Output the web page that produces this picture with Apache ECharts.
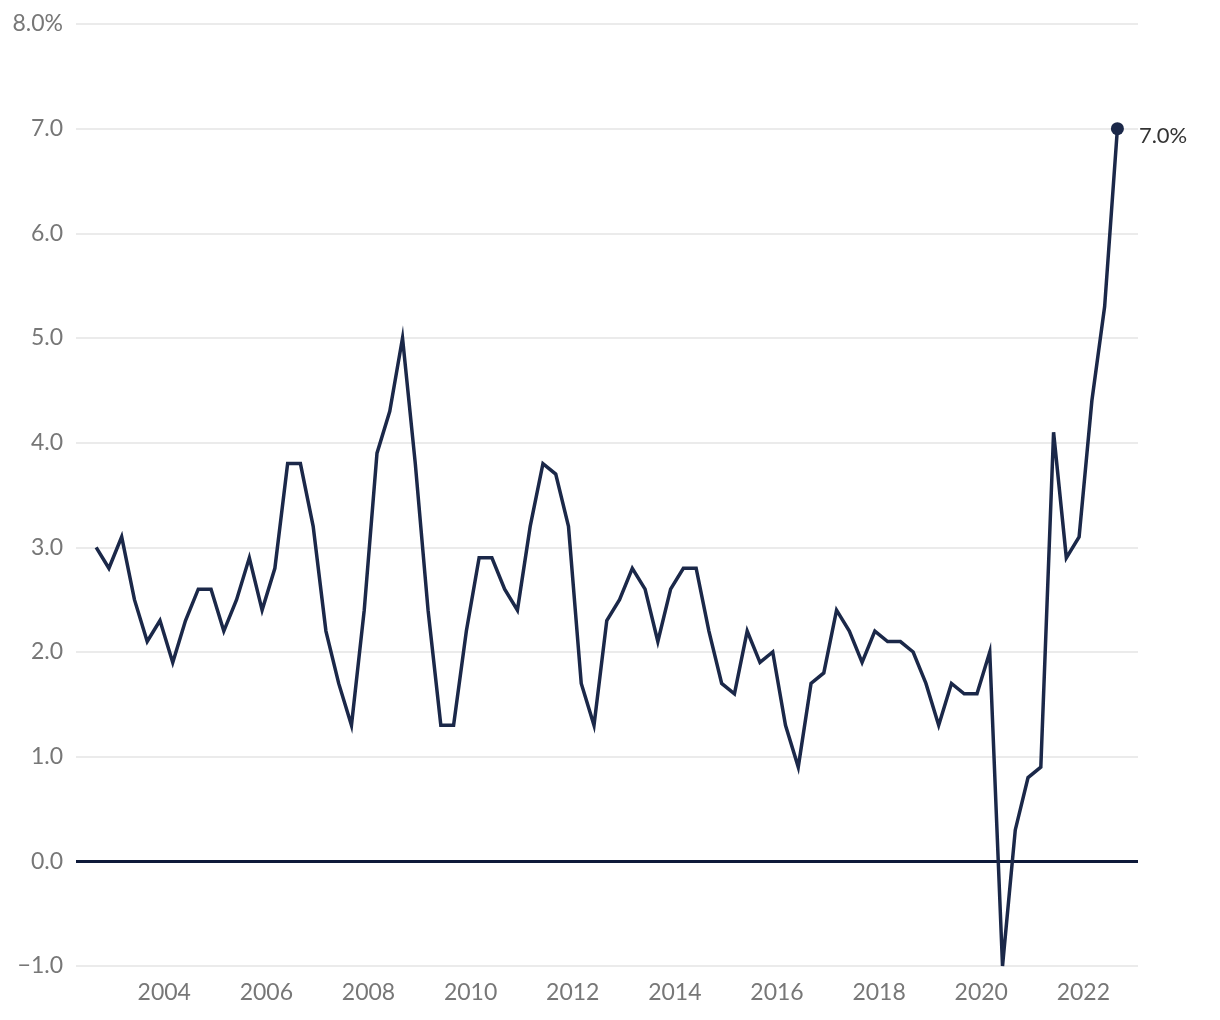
<!DOCTYPE html>
<html>
<head>
<meta charset="utf-8">
<script src="https://cdn.jsdelivr.net/npm/echarts@6/dist/echarts.min.js"></script>
<style>
html,body{margin:0;padding:0;background:#fff;}
#chart{width:1220px;height:1020px;}
</style>
</head>
<body>
<div id="chart"></div>
<script>
// Quarterly series, first observation Q3 2002 (plotted at its quarter position)
const firstQuarterYear = 2002 + 8 / 12;   // first quarter position in fractional years
const quarterStep = 0.25;
const values = [
  3.0, 2.8, 3.1, 2.5, 2.1, 2.3, 1.9, 2.3, 2.6, 2.6,
  2.2, 2.5, 2.9, 2.4, 2.8, 3.8, 3.8, 3.2, 2.2, 1.7,
  1.3, 2.4, 3.9, 4.3, 5.0, 3.8, 2.4, 1.3, 1.3, 2.2,
  2.9, 2.9, 2.6, 2.4, 3.2, 3.8, 3.7, 3.2, 1.7, 1.3,
  2.3, 2.5, 2.8, 2.6, 2.1, 2.6, 2.8, 2.8, 2.2, 1.7,
  1.6, 2.2, 1.9, 2.0, 1.3, 0.9, 1.7, 1.8, 2.4, 2.2,
  1.9, 2.2, 2.1, 2.1, 2.0, 1.7, 1.3, 1.7, 1.6, 1.6,
  2.0, -1.0, 0.3, 0.8, 0.9, 4.1, 2.9, 3.1, 4.4, 5.3,
  7.0
];
const xTickYears = [2004, 2006, 2008, 2010, 2012, 2014, 2016, 2018, 2020, 2022];
const yTicks = [-1, 0, 1, 2, 3, 4, 5, 6, 7, 8];

const points = values.map((v, i) => [firstQuarterYear + i * quarterStep, v]);
const lastPoint = points[points.length - 1];

const chart = echarts.init(document.getElementById('chart'), null, {renderer: 'canvas'});
const FONT = 'Lato, "Open Sans", sans-serif';
const NAVY = '#1b2849';

chart.setOption({
  animation: false,
  backgroundColor: '#ffffff',
  grid: {left: 76, right: 82, top: 24, bottom: 54, containLabel: false},
  xAxis: {
    type: 'value',
    min: 2002.272,
    max: 2023.07,
    axisLine: {show: false},
    axisTick: {show: false},
    splitLine: {show: false},
    axisLabel: {
      customValues: xTickYears,
      formatter: v => String(Math.round(v)),
      color: '#777777',
      fontFamily: FONT,
      fontSize: 23,
      margin: 15
    }
  },
  yAxis: {
    type: 'value',
    min: yTicks[0],
    max: yTicks[yTicks.length - 1],
    interval: 1,
    axisLine: {show: false},
    axisTick: {show: false},
    splitLine: {show: true, lineStyle: {color: '#e4e4e4', width: 1.5}},
    axisLabel: {
      color: '#777777',
      fontFamily: FONT,
      fontSize: 23,
      margin: 13,
      formatter: v => {
        const s = Math.abs(v).toFixed(1);
        const t = (v < 0 ? '\u2212' : '') + s;
        return v === yTicks[yTicks.length - 1] ? t + '%' : t;
      }
    }
  },
  series: [
    {
      type: 'line',
      data: points,
      showSymbol: false,
      symbol: 'none',
      lineStyle: {color: NAVY, width: 3.5, join: 'miter'},
      z: 3,
      markLine: {
        silent: true,
        symbol: ['none', 'none'],
        label: {show: false},
        lineStyle: {color: '#0e1a3a', width: 3, type: 'solid'},
        data: [{yAxis: 0}],
        z: 2
      }
    },
    {
      type: 'scatter',
      data: [lastPoint],
      symbol: 'circle',
      symbolSize: 13,
      itemStyle: {color: NAVY, opacity: 1},
      z: 4,
      label: {
        show: true,
        position: 'right',
        distance: 15,
        offset: [0, 7],
        formatter: p => p.value[1].toFixed(1) + '%',
        color: '#333333',
        fontFamily: FONT,
        fontSize: 22
      }
    }
  ]
});
</script>
</body>
</html>
